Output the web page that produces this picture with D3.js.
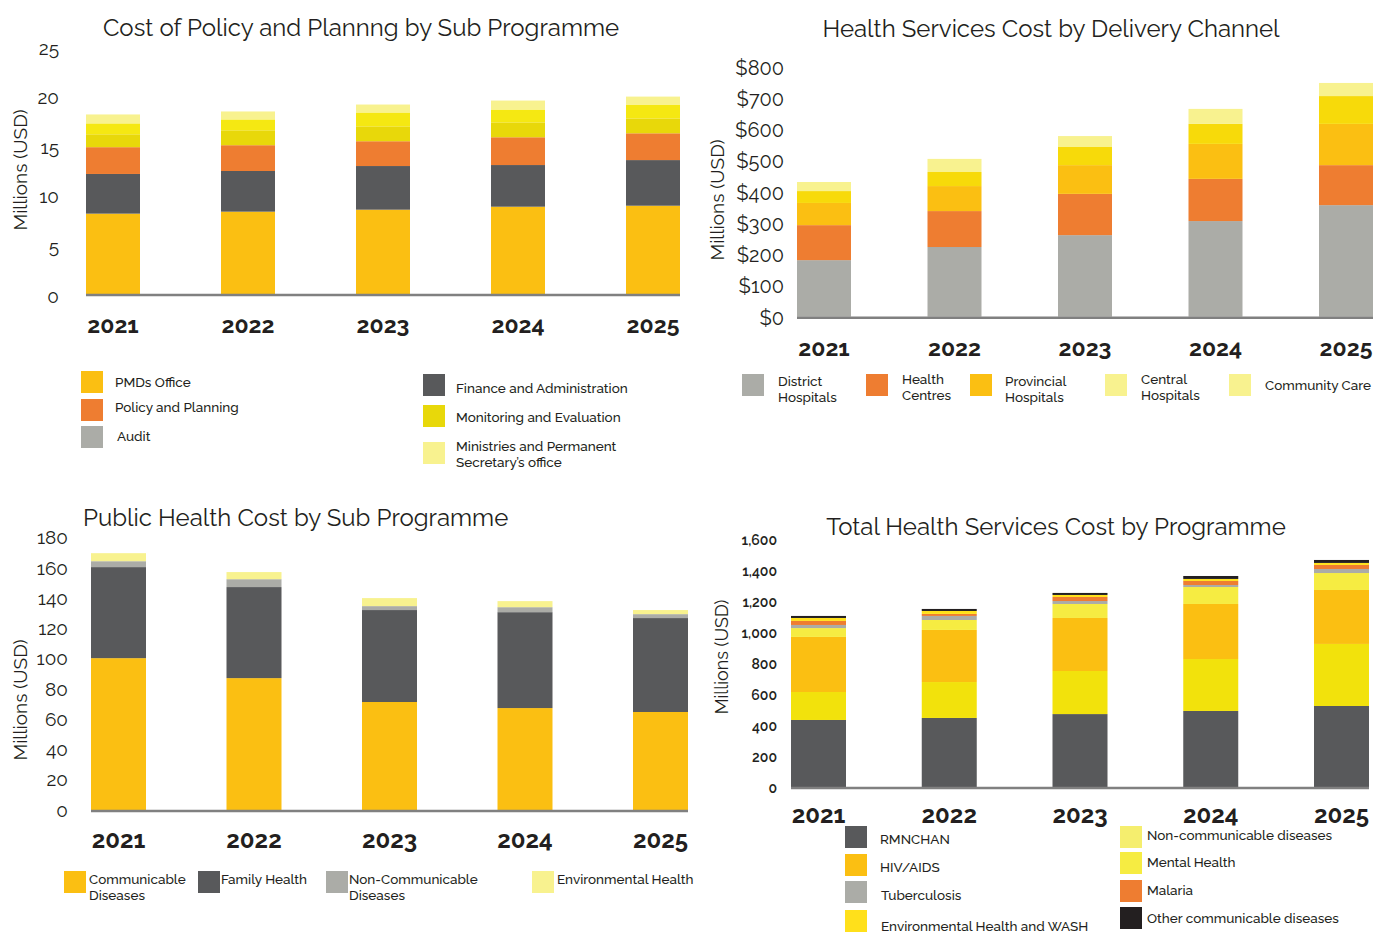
<!DOCTYPE html>
<html>
<head>
<meta charset="utf-8">
<script src="https://cdn.jsdelivr.net/npm/d3@7"></script>
<style>
  body { margin: 0; background: #fff; }
  svg text { font-family: Raleway, Lato, "Open Sans", sans-serif; fill: #231f20; }
</style>
</head>
<body>
<svg id="page" width="1374" height="933"></svg>
<script>
// shared categories
var years = ["2021", "2022", "2023", "2024", "2025"];

// --- Cost of Policy and Planning by Sub Programme (millions USD)
var pmdsOffice      = [8.1, 8.3, 8.5, 8.8, 8.9];
var financeAdmin    = [4.0, 4.1, 4.4, 4.2, 4.6];
var policyPlanning  = [2.7, 2.6, 2.5, 2.8, 2.7];
var monitoringEval  = [1.3, 1.5, 1.5, 1.5, 1.5];
var audit           = [1.1, 1.1, 1.4, 1.3, 1.4];
var ministriesPS    = [0.9, 0.8, 0.8, 0.9, 0.8];
var policyTicks     = [0, 5, 10, 15, 20, 25];

// --- Health Services Cost by Delivery Channel
var districtHospitals   = [181, 223, 261, 306, 357];
var healthCentres       = [112, 115, 132, 135, 128];
var provincialHospitals = [71, 80, 92, 112, 132];
var centralHospitals    = [38, 45, 58, 64, 89];
var communityCare       = [29, 42, 35, 48, 42];
var channelTicks        = [0, 100, 200, 300, 400, 500, 600, 700, 800];

// --- Public Health Cost by Sub Programme
var communicable        = [100.4, 87.2, 71.4, 67.4, 64.8];
var familyHealth        = [60.2, 60.2, 60.8, 63.4, 62.1];
var nonCommunicable     = [3.9, 5.2, 2.6, 3.3, 2.6];
var environmentalHealth = [5.3, 4.7, 5.3, 4.0, 2.7];
var publicTicks         = [0, 20, 40, 60, 80, 100, 120, 140, 160, 180];

// --- Total Health Services Cost by Programme
var rmnchan        = [431, 444, 469, 489, 521];
var envHealthWash  = [180, 231, 277, 334, 399];
var hivAids        = [354, 335, 341, 354, 347];
var ncds           = [57, 64, 90, 109, 109];
var tuberculosis   = [20, 26, 19, 13, 26];
var malaria        = [26, 13, 26, 26, 26];
var mentalHealth   = [19, 19, 13, 13, 13];
var otherCommunicable = [13, 13, 13, 19, 19];
var programmeTicks = [0, 200, 400, 600, 800, 1000, 1200, 1400, 1600];

var C = {
  amber: "#fbbf12", dark: "#58595b", orange: "#ee7d31", olive: "#e8d80a",
  bright: "#f5e812", pale: "#f8f28f", gray: "#abaca7", gold: "#f7da0a",
  lemon: "#f6ec42", sun: "#ffe11a", black: "#231f20", ncdPale: "#f5ee6e"
};

var svg = d3.select("#page");

function bandFor(firstLeft, lastRight, bw) {
  var n = years.length;
  var step = (lastRight - firstLeft - bw) / (n - 1);
  var pi = 1 - bw / step;
  return d3.scaleBand().domain(years)
    .range([firstLeft - step * pi / 2, lastRight + step * pi / 2])
    .paddingInner(pi).paddingOuter(pi / 2);
}

function stackedChart(o) {
  var g = svg.append("g");
  var rows = years.map(function (yr, i) {
    var r = { year: yr };
    o.series.forEach(function (s) { r[s.name] = s.values[i]; });
    return r;
  });
  var keys = o.series.map(function (s) { return s.name; });
  var stacked = d3.stack().keys(keys)(rows);

  var x = bandFor(o.barLeft, o.barRight, o.barWidth);
  var top = o.ticks[o.ticks.length - 1];
  var y = d3.scaleLinear().domain([0, top])
    .range([o.base, o.base - top * o.pxPerUnit]);

  g.selectAll("g.layer").data(stacked).join("g")
    .attr("class", "layer")
    .attr("fill", function (d, i) { return o.series[i].color; })
    .selectAll("rect").data(function (d) { return d; }).join("rect")
    .attr("x", function (d) { return x(d.data.year); })
    .attr("width", x.bandwidth())
    .attr("y", function (d) { return y(d[1]); })
    .attr("height", function (d) { return y(d[0]) - y(d[1]); });

  // baseline
  g.append("line")
    .attr("x1", x(years[0])).attr("x2", x(years[years.length - 1]) + x.bandwidth())
    .attr("y1", o.base + 1).attr("y2", o.base + 1)
    .attr("stroke", "#808080").attr("stroke-width", 2.5);

  // y axis
  var ya = g.append("g")
    .attr("transform", "translate(" + o.tickX + "," + o.tickShift + ")")
    .call(d3.axisLeft(y).tickValues(o.ticks).tickFormat(o.fmt).tickSize(0).tickPadding(0));
  ya.select(".domain").remove();
  ya.selectAll("text")
    .style("font-size", o.tickFont + "px")
    .style("font-weight", o.tickWeight || 400)
    .attr("fill", "#231f20");

  // x axis labels
  var xa = g.append("g")
    .attr("transform", "translate(0," + o.xLabelY + ")")
    .call(d3.axisBottom(x).tickSize(0).tickPadding(0));
  xa.select(".domain").remove();
  xa.selectAll("text")
    .attr("dy", 0)
    .style("font-size", o.xFont + "px")
    .style("font-weight", 700)
    .attr("fill", "#231f20");

  // titles
  g.append("text")
    .attr("x", o.titleX).attr("y", o.titleY)
    .attr("text-anchor", o.titleAnchor || "middle")
    .style("font-size", o.titleFont + "px")
    .text(o.title);
  g.append("text")
    .attr("transform", "translate(" + o.yTitleX + "," + o.yTitleY + ") rotate(-90)")
    .attr("text-anchor", "middle")
    .attr("dy", "0.35em")
    .style("font-size", o.yTitleFont + "px")
    .text("Millions (USD)");

  // legend
  var lg = g.append("g");
  o.legend.forEach(function (it) {
    lg.append("rect").attr("x", it.sx).attr("y", it.sy)
      .attr("width", 22).attr("height", 22).attr("fill", it.color);
    it.lines.forEach(function (line, k) {
      lg.append("text").attr("x", it.tx).attr("y", it.ty + k * 16)
        .style("font-size", "13.5px").style("font-weight", 500)
        .text(line);
    });
  });
}

var plain = function (d) { return d; };

stackedChart({
  title: "Cost of Policy and Plannng by Sub Programme",
  titleX: 361, titleY: 36, titleFont: 24,
  series: [
    { name: "PMDs Office", values: pmdsOffice, color: C.amber },
    { name: "Finance and Administration", values: financeAdmin, color: C.dark },
    { name: "Policy and Planning", values: policyPlanning, color: C.orange },
    { name: "Monitoring and Evaluation", values: monitoringEval, color: C.olive },
    { name: "Audit", values: audit, color: C.bright },
    { name: "Ministries and Permanent Secretary's office", values: ministriesPS, color: C.pale }
  ],
  ticks: policyTicks, fmt: plain, base: 294, pxPerUnit: 9.92,
  barLeft: 86, barRight: 680, barWidth: 54,
  tickX: 59, tickShift: 2, tickFont: 19,
  xLabelY: 333, xFont: 23,
  yTitleX: 20, yTitleY: 170, yTitleFont: 19,
  legend: [
    { color: C.amber, sx: 81, sy: 371, tx: 115, ty: 387, lines: ["PMDs Office"] },
    { color: C.orange, sx: 81, sy: 399, tx: 115, ty: 412, lines: ["Policy and Planning"] },
    { color: C.gray, sx: 81, sy: 426, tx: 117, ty: 441, lines: ["Audit"] },
    { color: C.dark, sx: 423, sy: 374, tx: 456, ty: 393, lines: ["Finance and Administration"] },
    { color: C.olive, sx: 423, sy: 405, tx: 456, ty: 422, lines: ["Monitoring and Evaluation"] },
    { color: C.pale, sx: 423, sy: 442, tx: 456, ty: 451, lines: ["Ministries and Permanent", "Secretary\u2019s office"] }
  ]
});

stackedChart({
  title: "Health Services Cost by Delivery Channel",
  titleX: 1051, titleY: 37, titleFont: 24,
  series: [
    { name: "District Hospitals", values: districtHospitals, color: C.gray },
    { name: "Health Centres", values: healthCentres, color: C.orange },
    { name: "Provincial Hospitals", values: provincialHospitals, color: C.amber },
    { name: "Central Hospitals", values: centralHospitals, color: C.gold },
    { name: "Community Care", values: communityCare, color: C.pale }
  ],
  ticks: channelTicks, fmt: function (d) { return "$" + d; }, base: 316.7, pxPerUnit: 0.3125,
  barLeft: 797, barRight: 1373, barWidth: 54,
  tickX: 784, tickShift: 1, tickFont: 20,
  xLabelY: 356, xFont: 23,
  yTitleX: 717, yTitleY: 200, yTitleFont: 19,
  legend: [
    { color: C.gray, sx: 742, sy: 374, tx: 778, ty: 386, lines: ["District", "Hospitals"] },
    { color: C.orange, sx: 866, sy: 374, tx: 902, ty: 384, lines: ["Health", "Centres"] },
    { color: C.amber, sx: 970, sy: 374, tx: 1005, ty: 386, lines: ["Provincial", "Hospitals"] },
    { color: C.pale, sx: 1105, sy: 374, tx: 1141, ty: 384, lines: ["Central", "Hospitals"] },
    { color: C.pale, sx: 1229, sy: 374, tx: 1265, ty: 390, lines: ["Community Care"] }
  ]
});

stackedChart({
  title: "Public Health Cost by Sub Programme",
  titleX: 83, titleY: 526, titleFont: 24, titleAnchor: "start",
  series: [
    { name: "Communicable Diseases", values: communicable, color: C.amber },
    { name: "Family Health", values: familyHealth, color: C.dark },
    { name: "Non-Communicable Diseases", values: nonCommunicable, color: C.gray },
    { name: "Environmental Health", values: environmentalHealth, color: C.pale }
  ],
  ticks: publicTicks, fmt: plain, base: 810, pxPerUnit: 1.5125,
  barLeft: 91, barRight: 688, barWidth: 55,
  tickX: 68, tickShift: 0, tickFont: 19,
  xLabelY: 848, xFont: 24,
  yTitleX: 20, yTitleY: 700, yTitleFont: 19,
  legend: [
    { color: C.amber, sx: 64, sy: 871, tx: 89, ty: 884, lines: ["Communicable", "Diseases"] },
    { color: C.dark, sx: 198, sy: 871, tx: 221, ty: 884, lines: ["Family Health"] },
    { color: C.gray, sx: 326, sy: 871, tx: 349, ty: 884, lines: ["Non-Communicable", "Diseases"] },
    { color: C.pale, sx: 532, sy: 871, tx: 557, ty: 884, lines: ["Environmental Health"] }
  ]
});

stackedChart({
  title: "Total Health Services Cost by Programme",
  titleX: 1056, titleY: 535, titleFont: 24,
  series: [
    { name: "RMNCHAN", values: rmnchan, color: C.dark },
    { name: "Environmental Health and WASH", values: envHealthWash, color: "#f2e20c" },
    { name: "HIV/AIDS", values: hivAids, color: C.amber },
    { name: "Non-communicable diseases", values: ncds, color: C.lemon },
    { name: "Tuberculosis", values: tuberculosis, color: C.gray },
    { name: "Malaria", values: malaria, color: C.orange },
    { name: "Mental Health", values: mentalHealth, color: C.sun },
    { name: "Other communicable diseases", values: otherCommunicable, color: C.black }
  ],
  ticks: programmeTicks, fmt: d3.format(","), base: 787, pxPerUnit: 0.1555,
  barLeft: 791, barRight: 1369, barWidth: 55,
  tickX: 777, tickShift: 1.5, tickFont: 14, tickWeight: 600,
  xLabelY: 823, xFont: 24,
  yTitleX: 722, yTitleY: 657, yTitleFont: 18,
  legend: [
    { color: C.dark, sx: 845, sy: 826, tx: 880, ty: 844, lines: ["RMNCHAN"] },
    { color: C.amber, sx: 845, sy: 854, tx: 880, ty: 872, lines: ["HIV/AIDS"] },
    { color: C.gray, sx: 845, sy: 881, tx: 881, ty: 900, lines: ["Tuberculosis"] },
    { color: "#ffe01b", sx: 845, sy: 910, tx: 881, ty: 931, lines: ["Environmental Health and WASH"] },
    { color: C.ncdPale, sx: 1120, sy: 826, tx: 1147, ty: 840, lines: ["Non-communicable diseases"] },
    { color: C.lemon, sx: 1120, sy: 852, tx: 1147, ty: 867, lines: ["Mental Health"] },
    { color: C.orange, sx: 1120, sy: 880, tx: 1147, ty: 895, lines: ["Malaria"] },
    { color: C.black, sx: 1120, sy: 907, tx: 1147, ty: 923, lines: ["Other communicable diseases"] }
  ]
});
</script>
</body>
</html>
